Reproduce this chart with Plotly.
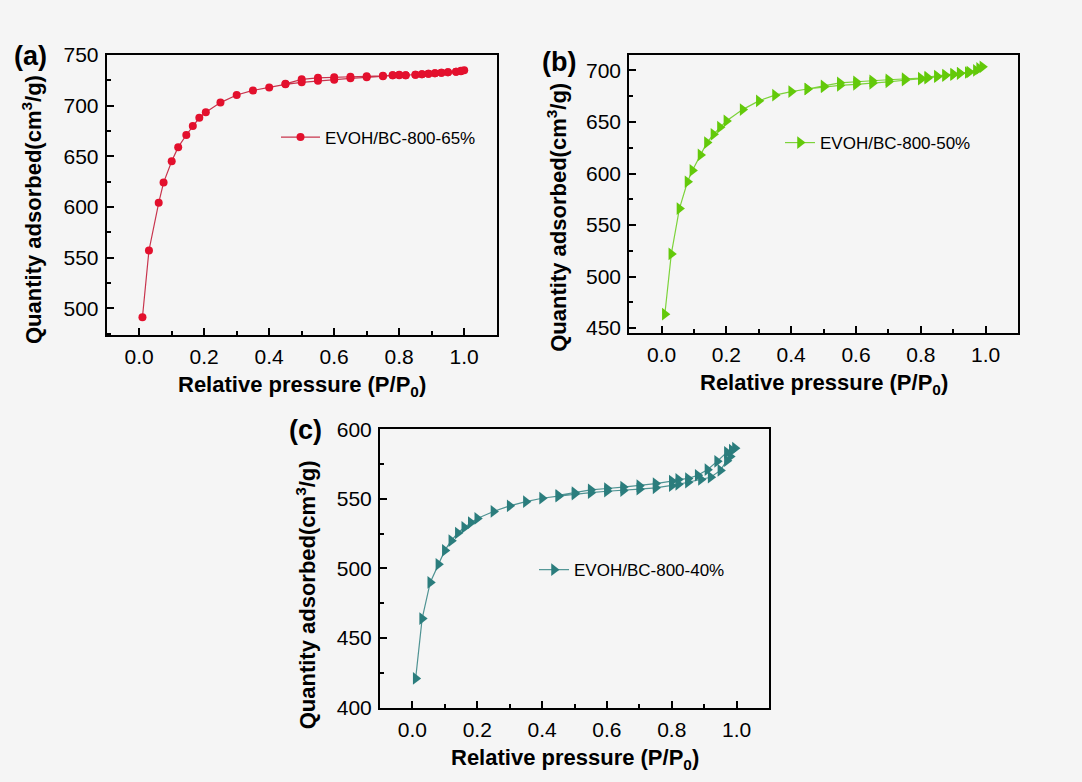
import plotly.graph_objects as go

W, H = 1082, 782

# ---------------- data ----------------
# (a) EVOH/BC-800-65%
a_ads_x = [0.01, 0.03, 0.06, 0.075, 0.10, 0.12, 0.145, 0.165, 0.185, 0.205, 0.25, 0.30, 0.35, 0.40,
           0.45, 0.50, 0.55, 0.60, 0.65, 0.70, 0.75, 0.78, 0.80, 0.82, 0.85, 0.87, 0.89, 0.91,
           0.93, 0.95, 0.975, 0.99, 1.0]
a_ads_y = [491, 557, 604, 624, 645, 659, 671, 680, 688, 693.5, 703, 710.5, 715, 718,
           721, 723, 724.5, 725.5, 727, 728, 729, 730, 730, 730, 730.5, 731, 731.5, 732,
           732.5, 733, 733.5, 734, 735]
a_des_x = [0.99, 0.975, 0.95, 0.93, 0.91, 0.89, 0.87, 0.85, 0.82, 0.80, 0.78, 0.75, 0.70,
           0.65, 0.60, 0.55, 0.50, 0.45]
a_des_y = [734.5, 733.5, 733, 732.5, 732, 731.5, 731, 730.5, 730, 730.5, 730, 729.5, 729,
           728.5, 728, 727.5, 726, 721.5]

# (b) EVOH/BC-800-50%
b_ads_x = [0.01, 0.03, 0.055, 0.08, 0.095, 0.12, 0.14, 0.16, 0.18, 0.20, 0.25, 0.30, 0.35,
           0.40, 0.45, 0.50, 0.55, 0.60, 0.65, 0.70, 0.75, 0.80, 0.82, 0.85, 0.875, 0.90,
           0.92, 0.945, 0.97, 0.99]
b_ads_y = [463.5, 522, 566, 592, 603, 618, 630, 638, 645, 651, 662, 670.5, 676,
           679.5, 682, 684, 685.5, 686.5, 687.5, 689, 690.5, 691.5, 692.5, 694, 695, 696,
           697, 698, 700, 703.5]
b_des_x = [0.98, 0.95, 0.92, 0.90, 0.875, 0.85, 0.82, 0.80, 0.75, 0.70, 0.65, 0.60, 0.55,
           0.50, 0.45]
b_des_y = [702, 698.5, 697.5, 696.5, 695.5, 694.5, 693.5, 692.5, 692, 691, 690, 689, 688,
           685, 682]

# (c) EVOH/BC-800-40%
c_ads_x = [0.01, 0.03, 0.055, 0.08, 0.10, 0.12, 0.14, 0.16, 0.18, 0.20, 0.25, 0.30, 0.35,
           0.40, 0.45, 0.50, 0.55, 0.60, 0.65, 0.70, 0.75, 0.80, 0.82, 0.85, 0.89, 0.92,
           0.95, 0.97, 0.98, 0.995]
c_ads_y = [421, 464, 490, 503, 513, 520, 525.5, 529.5, 533, 536, 541, 545, 548,
           550.5, 552, 553.5, 554.5, 555.5, 556, 557, 558, 559.5, 560.5, 562, 564, 565.6,
           570.5, 577.5, 580.5, 586.5]
c_des_x = [0.985, 0.97, 0.94, 0.91, 0.88, 0.85, 0.82, 0.80, 0.75, 0.70, 0.65, 0.60, 0.55,
           0.50, 0.45]
c_des_y = [585, 583.5, 577, 571, 567, 564.6, 564, 562.8, 561, 559.5, 558.5, 557.5, 556.5,
           554.5, 552.5]

names = ["EVOH/BC-800-65%", "EVOH/BC-800-50%", "EVOH/BC-800-40%"]
x_ticks = [0.0, 0.2, 0.4, 0.6, 0.8, 1.0]
x_tick_text = ["0.0", "0.2", "0.4", "0.6", "0.8", "1.0"]

# ---------------- figure ----------------
FONT = "Arial, Liberation Sans, sans-serif"
BG = "#f5f5f5"

fig = go.Figure()

series = [
    (a_ads_x + a_des_x, a_ads_y + a_des_y, names[0], "circle", 8, "#e3102d", "#c8344d", "x", "y", "legend"),
    (b_ads_x + b_des_x, b_ads_y + b_des_y, names[1], "triangle-right", 11, "#63c90a", "#7cd33a", "x2", "y2", "legend2"),
    (c_ads_x + c_des_x, c_ads_y + c_des_y, names[2], "triangle-right", 11, "#2b7d7d", "#4f9393", "x3", "y3", "legend3"),
]
for xs, ys, nm, sym, sz, mc, lc, xa, ya, lg in series:
    fig.add_trace(go.Scatter(
        x=xs, y=ys, name=nm, mode="lines+markers",
        line=dict(color=lc, width=1.2),
        marker=dict(symbol=sym, size=sz, color=mc, line=dict(width=0)),
        xaxis=xa, yaxis=ya, legend=lg, showlegend=True,
    ))


def px_x(p):
    return p / W


def px_y(p):
    return 1 - p / H


def xax(dom):
    return dict(
        domain=dom, range=[-0.1, 1.1], tickmode="array", tickvals=x_ticks, ticktext=x_tick_text,
        ticks="inside", ticklen=7, tickwidth=2, tickcolor="black",
        minor=dict(dtick=0.1, tick0=0, ticks="inside", ticklen=4, tickwidth=2, tickcolor="black"),
        showline=True, linecolor="black", linewidth=2, mirror=True,
        showgrid=False, zeroline=False,
        tickfont=dict(family=FONT, size=21, color="black"),
        ticklabelstandoff=2,
    )


def yax(dom, rng, dtick, anchor):
    return dict(
        domain=dom, range=rng, dtick=dtick, tick0=0, anchor=anchor,
        ticks="inside", ticklen=7, tickwidth=2, tickcolor="black",
        minor=dict(dtick=dtick / 2, tick0=0, ticks="inside", ticklen=4, tickwidth=2, tickcolor="black"),
        showline=True, linecolor="black", linewidth=2, mirror=True,
        showgrid=False, zeroline=False,
        tickfont=dict(family=FONT, size=21, color="black"),
        ticklabelstandoff=2,
    )


ya_dom = [px_y(332.3), px_y(44.3)]
yb_dom = [px_y(331), px_y(44.3)]
yc_dom = [px_y(716.7), px_y(430)]

xa = xax([px_x(106.7), px_x(496.7)]); xa["anchor"] = "y"
xb = xax([px_x(629.2), px_x(1018)]); xb["anchor"] = "y2"
xc = xax([px_x(380), px_x(769)]); xc["anchor"] = "y3"

legend_common = dict(
    font=dict(family=FONT, size=17, color="black"), bgcolor="rgba(0,0,0,0)",
    borderwidth=0, xanchor="left", yanchor="middle",
)

fig.update_layout(
    width=W, height=H, autosize=False,
    margin=dict(l=0, r=0, t=0, b=0),
    paper_bgcolor=BG, plot_bgcolor=BG,
    xaxis=xa, yaxis=yax(ya_dom, [474, 750], 50, "x"),
    xaxis2=xb, yaxis2=yax(yb_dom, [445, 715], 50, "x2"),
    xaxis3=xc, yaxis3=yax(yc_dom, [400, 600], 50, "x3"),
    legend=dict(x=px_x(276), y=px_y(129.3), itemwidth=39, **legend_common),
    legend2=dict(x=px_x(780), y=px_y(135), itemwidth=30, **legend_common),
    legend3=dict(x=px_x(534), y=px_y(575), itemwidth=30, **legend_common),
)

anns = [
    ("<b>(a)</b>", 31, 45, 0, 27),
    ("<b>(b)</b>", 559, 52, 0, 27),
    ("<b>(c)</b>", 305, 431, 0, 27),
    ("<b>Quantity adsorbed(cm<sup>3</sup>/g)</b>", 32, 204, -90, 22),
    ("<b>Quantity adsorbed(cm<sup>3</sup>/g)</b>", 557, 212, -90, 22),
    ("<b>Quantity adsorbed(cm<sup>3</sup>/g)</b>", 306, 601, -90, 22),
    ("<b>Relative pressure (P/P<sub>0</sub>)</b>", 301.7, 385, 0, 22),
    ("<b>Relative pressure (P/P<sub>0</sub>)</b>", 823.6, 383, 0, 22),
    ("<b>Relative pressure (P/P<sub>0</sub>)</b>", 574.5, 770, 0, 22),
]
for txt, x, y, ang, sz in anns:
    fig.add_annotation(
        text=txt, x=px_x(x), y=px_y(y), xref="paper", yref="paper",
        xanchor="center", yanchor="middle", showarrow=False, textangle=ang,
        font=dict(family=FONT, size=sz, color="black"),
    )

fig.write_html("out.html", config={"displayModeBar": False},
               post_script="document.body.style.margin='0';")
